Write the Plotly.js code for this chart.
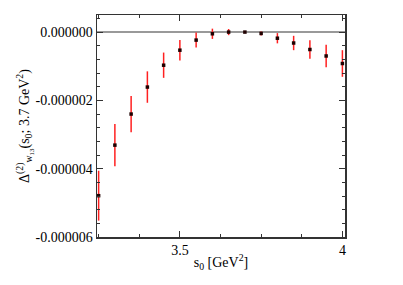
<!DOCTYPE html>
<html><head><meta charset="utf-8">
<script src="https://cdn.plot.ly/plotly-3.0.1.min.js"></script>
<style>html,body{margin:0;padding:0;background:#fff}#c{width:403px;height:285px}</style>
</head><body><div id="c"></div>
<script>
const s0 = [3.25,3.30,3.35,3.40,3.45,3.50,3.55,3.60,3.65,3.70,3.75,3.80,3.85,3.90,3.95,4.00];
const delta = [-4.79e-6,-3.31e-6,-2.40e-6,-1.61e-6,-0.97e-6,-0.53e-6,-0.235e-6,-0.05e-6,0.0,0.0,-0.04e-6,-0.18e-6,-0.32e-6,-0.51e-6,-0.70e-6,-0.92e-6];
const err = [0.73e-6,0.62e-6,0.53e-6,0.46e-6,0.37e-6,0.30e-6,0.22e-6,0.15e-6,0.09e-6,0.02e-6,0.06e-6,0.15e-6,0.21e-6,0.27e-6,0.33e-6,0.39e-6];
const yTickVals = [0,-2e-6,-4e-6,-6e-6];
const yTickText = ['0.000000','-0.000002','-0.000004','-0.000006'];
const xTickVals = [3.5,4];
const xTickText = ['3.5','4'];

const font = {family:'Times New Roman, Liberation Serif, serif', size:14, color:'#000'};
const trace = {
  x:s0, y:delta, type:'scatter', mode:'markers',
  marker:{symbol:'square', size:3.5, color:'#200000'},
  error_y:{type:'data', array:err, visible:true, color:'#ff2020', thickness:1.5, width:0}
};
const layout = {
  width:403, height:285,
  margin:{l:97, r:58, t:15, b:48},
  paper_bgcolor:'#fff', plot_bgcolor:'#fff',
  showlegend:false, font:font,
  xaxis:{
    range:[3.245,4.008], tickmode:'array', tickvals:xTickVals, ticktext:xTickText,
    ticks:'inside', ticklen:6, tickcolor:'#333', tickwidth:1,
    minor:{tickmode:'linear', tick0:3.25, dtick:0.125, ticks:'inside', ticklen:3, tickcolor:'#333'},
    showline:true, linecolor:'#333', linewidth:1.5, mirror:'ticks',
    showgrid:false, zeroline:false, tickfont:font,
    title:{text:'s<sub>0</sub> [GeV<sup>2</sup>]', font:font, standoff:0}
  },
  yaxis:{
    range:[-6e-6,0.5e-6], tickmode:'array', tickvals:yTickVals, ticktext:yTickText,
    ticks:'inside', ticklen:6, tickcolor:'#333', tickwidth:1,
    minor:{tickmode:'linear', tick0:0, dtick:0.4e-6, ticks:'inside', ticklen:3, tickcolor:'#333'},
    showline:true, linecolor:'#333', linewidth:1.5, mirror:'ticks',
    showgrid:false, zeroline:true, zerolinecolor:'#999', zerolinewidth:1.5, tickfont:font,
    title:{text:'Δ<sup>(2)</sup><sub>w<sub>13</sub></sub>(s<sub>0</sub>; 3.7 GeV<sup>2</sup>)', font:font, standoff:2}
  }
};
Plotly.newPlot('c',[trace],layout,{displayModeBar:false,staticPlot:true});
</script></body></html>
